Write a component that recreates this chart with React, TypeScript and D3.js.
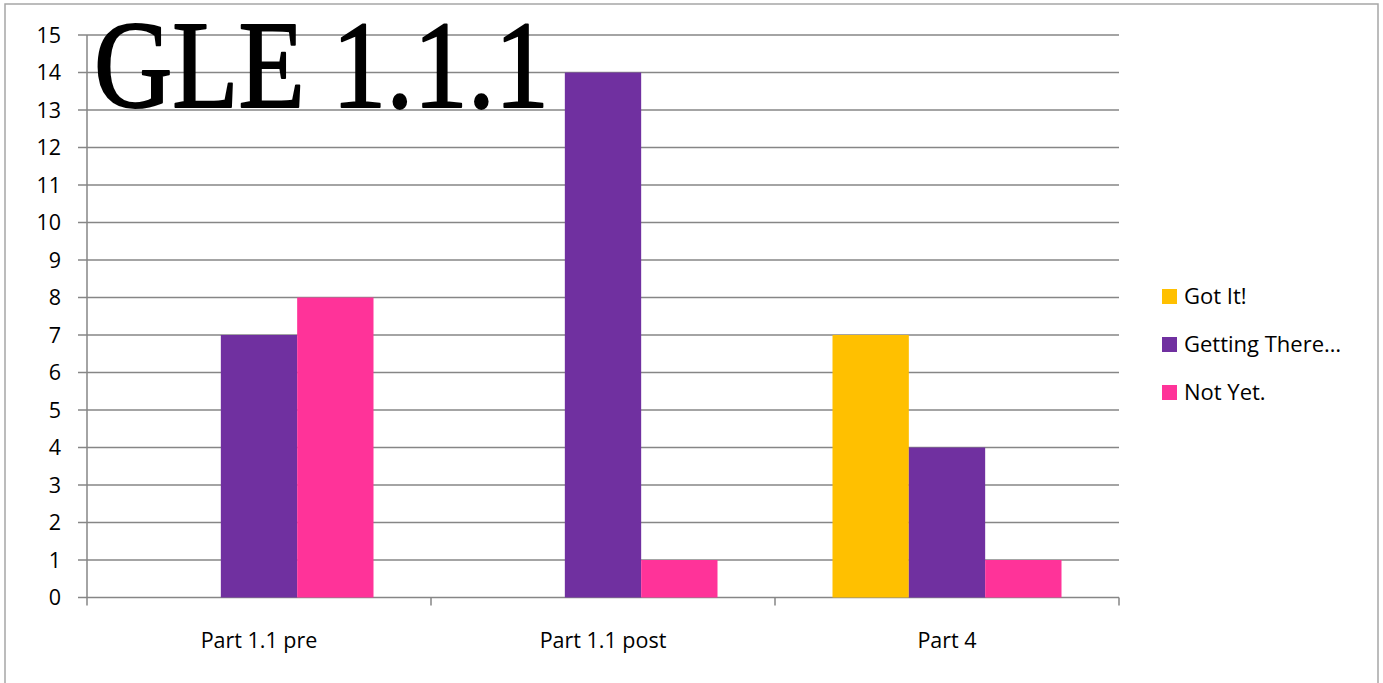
import React, { useEffect, useRef } from "react";
import * as d3 from "d3";

const categories = ["Part 1.1 pre", "Part 1.1 post", "Part 4"];
const seriesNames = ["Got It!", "Getting There…", "Not Yet."];
const gotIt = [0, 0, 7];
const gettingThere = [7, 14, 4];
const notYet = [8, 1, 1];
const seriesColors = ["#FFC000", "#7030A0", "#FF3399"];
const yTicks = d3.range(0, 16);

const W = 1383;
const H = 683;
const plot = { left: 87, right: 1119, top: 35, bottom: 597.5 };
const FONT = "'Open Sans', 'Liberation Sans', sans-serif";
const FS = 21.5;

export default function App() {
  const ref = useRef<SVGSVGElement | null>(null);

  useEffect(() => {
    document.body.style.margin = "0";
    const svg = d3.select(ref.current);
    svg.selectAll("*").remove();

    svg.append("rect").attr("width", W).attr("height", H).attr("fill", "#fff");
    // outer chart frame
    svg
      .append("rect")
      .attr("x", 5)
      .attr("y", 4)
      .attr("width", 1373)
      .attr("height", 700)
      .attr("fill", "none")
      .attr("stroke", "#a6a6a6")
      .attr("stroke-width", 1.5);

    const y = d3.scaleLinear().domain([0, 15]).range([plot.bottom, plot.top]);
    const x0 = d3.scaleBand<string>().domain(categories).range([plot.left, plot.right]).padding(0);
    const inner = 57.5;
    const x1 = d3
      .scaleBand<string>()
      .domain(seriesNames)
      .range([inner, x0.bandwidth() - inner])
      .padding(0);

    const g = svg.append("g");

    // horizontal gridlines with left tick marks
    g.selectAll("line.grid")
      .data(yTicks)
      .join("line")
      .attr("x1", plot.left - 9)
      .attr("x2", plot.right)
      .attr("y1", (d) => y(d))
      .attr("y2", (d) => y(d))
      .attr("stroke", "#868686")
      .attr("stroke-width", 1.5);

    g.selectAll("text.ylab")
      .data(yTicks)
      .join("text")
      .attr("x", 61)
      .attr("y", (d) => y(d))
      .attr("dy", "0.36em")
      .attr("text-anchor", "end")
      .attr("font-family", FONT)
      .attr("font-size", FS)
      .attr("fill", "#000")
      .text((d) => String(d));

    // y axis line
    g.append("line")
      .attr("x1", plot.left)
      .attr("x2", plot.left)
      .attr("y1", plot.top)
      .attr("y2", plot.bottom)
      .attr("stroke", "#868686")
      .attr("stroke-width", 1.5);

    // x axis tick marks at band boundaries
    const boundaries = [...categories.map((c) => x0(c) as number), plot.right];
    g.selectAll("line.xtick")
      .data(boundaries)
      .join("line")
      .attr("x1", (d) => d)
      .attr("x2", (d) => d)
      .attr("y1", plot.bottom)
      .attr("y2", plot.bottom + 8)
      .attr("stroke", "#868686")
      .attr("stroke-width", 1.5);

    const values = [gotIt, gettingThere, notYet];
    categories.forEach((cat, ci) => {
      seriesNames.forEach((s, si) => {
        const v = values[si][ci];
        if (v <= 0) return;
        g.append("rect")
          .attr("x", (x0(cat) as number) + (x1(s) as number))
          .attr("y", y(v))
          .attr("width", x1.bandwidth())
          .attr("height", y(0) - y(v))
          .attr("fill", seriesColors[si]);
      });
    });

    g.selectAll("text.xlab")
      .data(categories)
      .join("text")
      .attr("x", (d) => (x0(d) as number) + x0.bandwidth() / 2)
      .attr("y", 648)
      .attr("text-anchor", "middle")
      .attr("font-family", FONT)
      .attr("font-size", FS)
      .attr("fill", "#000")
      .text((d) => d);

    // legend
    const legend = svg.append("g");
    seriesNames.forEach((s, i) => {
      const cy = 296 + i * 48;
      legend
        .append("rect")
        .attr("x", 1162)
        .attr("y", cy - 7)
        .attr("width", 15)
        .attr("height", 15)
        .attr("fill", seriesColors[i]);
      legend
        .append("text")
        .attr("x", 1184)
        .attr("y", cy)
        .attr("dy", "0.36em")
        .attr("font-family", FONT)
        .attr("font-size", 22)
        .attr("fill", "#000")
        .text(s);
    });

    // title
    svg
      .append("text")
      .attr("x", 94)
      .attr("y", 107)
      .attr("font-family", "'Liberation Serif', 'Times New Roman', serif")
      .attr("font-size", 125)
      .attr("textLength", 455)
      .attr("lengthAdjust", "spacingAndGlyphs")
      .attr("fill", "#000")
      .attr("stroke", "#000")
      .attr("stroke-width", 2)
      .attr("stroke-linejoin", "round")
      .text("GLE 1.1.1");
  }, []);

  return <svg ref={ref} width={W} height={H} style={{ display: "block" }} />;
}
